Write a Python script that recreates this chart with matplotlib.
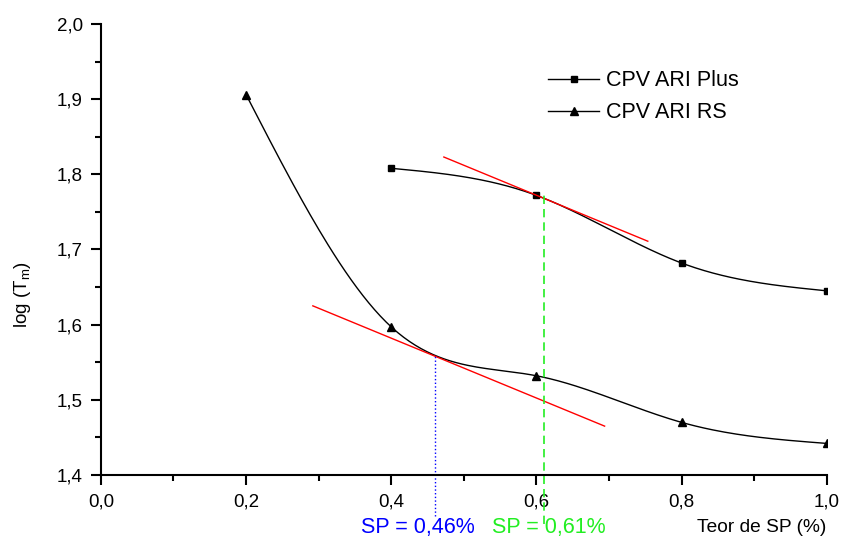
import numpy as np
import matplotlib.pyplot as plt
from matplotlib.ticker import MultipleLocator, FuncFormatter

plt.rcParams['font.family'] = ['Liberation Sans', 'DejaVu Sans']

# data
x_plus = [0.4, 0.6, 0.8, 1.0]
y_plus = [1.808, 1.772, 1.682, 1.645]
x_rs = [0.2, 0.4, 0.6, 0.8, 1.0]
y_rs = [1.906, 1.597, 1.532, 1.470, 1.442]

# tangent lines (end points)
tan_plus_x = [0.4725, 0.7535]
tan_plus_y = [1.823, 1.711]
tan_rs_x = [0.292, 0.694]
tan_rs_y = [1.625, 1.465]

sp_rs = 0.46
sp_rs_y = 1.560
sp_plus = 0.61
sp_plus_y = 1.772


def natural_spline(x, y, n=200):
    x = np.asarray(x, float)
    y = np.asarray(y, float)
    k = len(x)
    h = np.diff(x)
    A = np.zeros((k, k))
    b = np.zeros(k)
    A[0, 0] = 1
    A[-1, -1] = 1
    for i in range(1, k - 1):
        A[i, i - 1] = h[i - 1]
        A[i, i] = 2 * (h[i - 1] + h[i])
        A[i, i + 1] = h[i]
        b[i] = 6 * ((y[i + 1] - y[i]) / h[i] - (y[i] - y[i - 1]) / h[i - 1])
    M = np.linalg.solve(A, b)
    xs = np.linspace(x[0], x[-1], n)
    ys = np.empty_like(xs)
    for j, xv in enumerate(xs):
        i = min(np.searchsorted(x, xv) - 1, k - 2)
        i = max(i, 0)
        t1 = x[i + 1] - xv
        t0 = xv - x[i]
        ys[j] = (M[i] * t1**3 + M[i + 1] * t0**3) / (6 * h[i]) \
            + (y[i] / h[i] - M[i] * h[i] / 6) * t1 \
            + (y[i + 1] / h[i] - M[i + 1] * h[i] / 6) * t0
    return xs, ys


fig = plt.figure(figsize=(8.41, 5.4), dpi=100)
ax = fig.add_axes([0.120, 0.1204, 0.863, 0.8352])

sx, sy = natural_spline(x_plus, y_plus)
ax.plot(sx, sy, color='black', lw=1)
ax.plot(x_plus, y_plus, 's', color='black', ms=5)
sx, sy = natural_spline(x_rs, y_rs)
ax.plot(sx, sy, color='black', lw=1)
ax.plot(x_rs, y_rs, '^', color='black', ms=6)

# legend proxies
ax.plot([], [], '-s', color='black', lw=1, ms=5, label='CPV ARI Plus')
ax.plot([], [], '-^', color='black', lw=1, ms=6, label='CPV ARI RS')

ax.plot(tan_plus_x, tan_plus_y, color='red', lw=1)
ax.plot(tan_rs_x, tan_rs_y, color='red', lw=1)

ax.plot([sp_rs, sp_rs], [1.345, sp_rs_y], color='blue', lw=1, ls=':', clip_on=False)
ax.plot([sp_plus, sp_plus], [1.335, sp_plus_y], color='#22ee22', lw=1.2, ls=(0, (5, 3)), clip_on=False)

ax.set_xlim(0, 1.0)
ax.set_ylim(1.4, 2.0)
ax.xaxis.set_major_locator(MultipleLocator(0.2))
ax.xaxis.set_minor_locator(MultipleLocator(0.1))
ax.yaxis.set_major_locator(MultipleLocator(0.1))
ax.yaxis.set_minor_locator(MultipleLocator(0.05))
fmt = FuncFormatter(lambda v, p: f'{v:.1f}'.replace('.', ','))
ax.xaxis.set_major_formatter(fmt)
ax.yaxis.set_major_formatter(fmt)
ax.tick_params(which='major', direction='out', length=7, width=1.5, labelsize=13.5, pad=6)
ax.tick_params(which='minor', direction='out', length=4.5, width=1.5)
for s in ['top', 'right']:
    ax.spines[s].set_visible(False)
for s in ['left', 'bottom']:
    ax.spines[s].set_linewidth(1.5)

ax.set_ylabel('log (T$_\\mathregular{m}$)', fontsize=13.5)
ax.yaxis.set_label_coords(-0.093, 0.40)

fig.text(0.497, 0.024, 'SP = 0,46%', color='blue', fontsize=15.5, ha='center', va='center')
fig.text(0.652, 0.024, 'SP = 0,61%', color='#22ee22', fontsize=15.5, ha='center', va='center')
fig.text(0.906, 0.024, 'Teor de SP (%)', color='black', fontsize=13.8, ha='center', va='center')

ax.legend(loc='upper left', bbox_to_anchor=(0.589, 0.94), frameon=False,
          fontsize=15.5, handlelength=2.4, handletextpad=0.3, labelspacing=0.5)

fig.savefig('out.png', dpi=100)
